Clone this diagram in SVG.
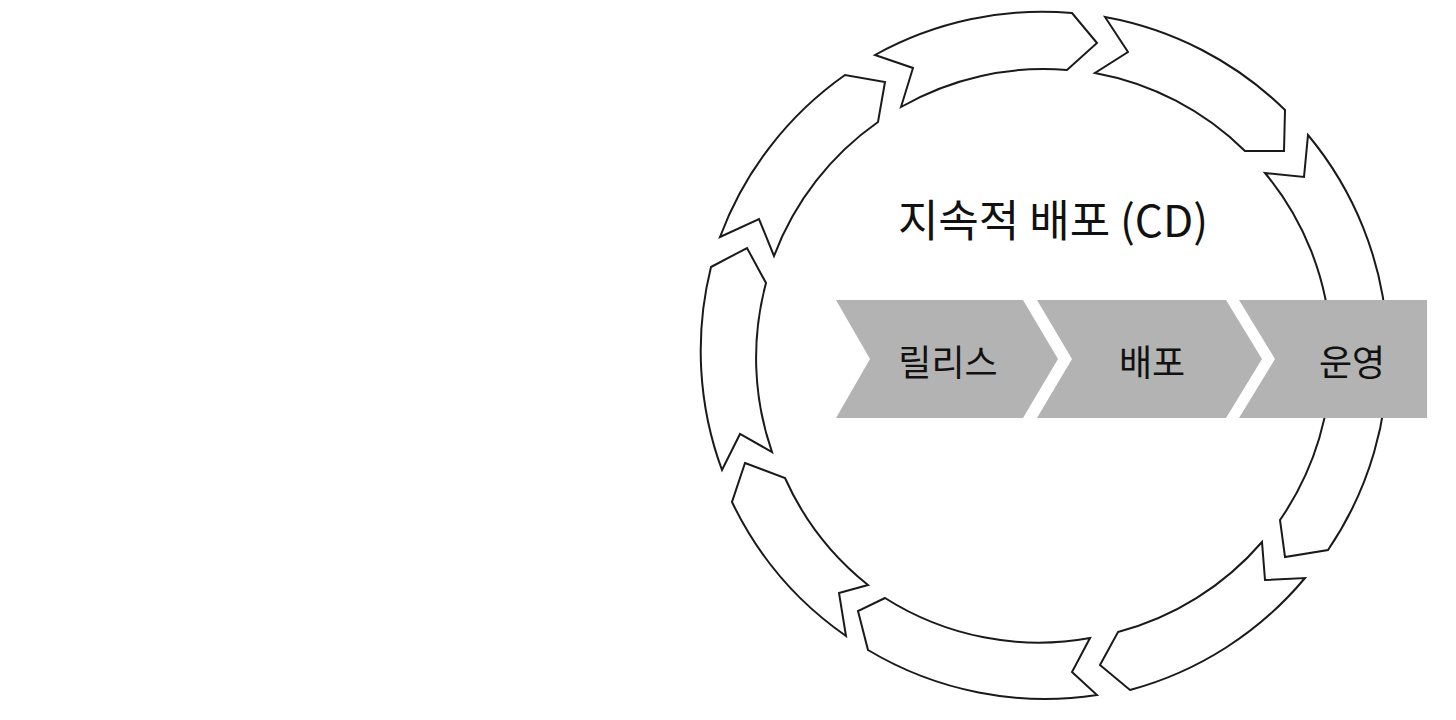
<svg xmlns="http://www.w3.org/2000/svg" width="1456" height="720" viewBox="0 0 1456 720">
<style>
.seg{fill:#fff;stroke:#1a1a1a;stroke-width:2;stroke-linejoin:miter}
.bar{fill:#b3b3b3}
.lbl{font-family:"Noto Sans CJK KR","Noto Sans",sans-serif;font-size:36px;fill:#111;text-anchor:middle;dominant-baseline:central}
.ttl{font-family:"Noto Sans CJK KR","Noto Sans",sans-serif;font-size:44px;fill:#111;text-anchor:middle;dominant-baseline:central}
</style>
<rect width="1456" height="720" fill="#fff"/>
<g id="connectors">
<path class="seg" d="M875,55 A345,345 0 0 1 1072,13 L1097,43 L1067,70 A287,287 0 0 0 901,107 L913,68 Z"/>
<path class="seg" d="M1105,17 A345,345 0 0 1 1285,110 L1284,151 L1245,151 A287,287 0 0 0 1095,73 L1128,52 Z"/>
<path class="seg" d="M1308,135 A345,345 0 0 1 1328,550 L1285,557 L1280,520 A287,287 0 0 0 1265,173 L1304,177 Z"/>
<path class="seg" d="M1305,578 A345,345 0 0 1 1130,690 L1100,665 L1118,632 A287,287 0 0 0 1262,542 L1265,580 Z"/>
<path class="seg" d="M1097,695 A345,345 0 0 1 868,650 L858,611 L885,598 A287,287 0 0 0 1090,638 L1072,672 Z"/>
<path class="seg" d="M745,463 L785,478 A287,287 0 0 0 868,585 L839,593 L846,636 A345,345 0 0 1 732,502 Z"/>
<path class="seg" d="M711,267 L747,248 L766,283 A287,287 0 0 0 772,452 L740,434 L722,470 A345,345 0 0 1 711,267 Z"/>
<path class="seg" d="M720,237 A345,345 0 0 1 845,75 L885,82 L878,122 A287,287 0 0 0 774,256 L759,219 Z"/>
</g>
<g id="title"><text class="ttl" x="1053" y="218">지속적 배포 (CD)</text></g>
<g id="release"><path class="bar" d="M836,300 L1023,300 L1058,359 L1023,418 L836,418 L870,359 Z"/><text class="lbl" x="948" y="360">릴리스</text></g>
<g id="deploy"><path class="bar" d="M1037,300 L1226,300 L1262,359 L1226,418 L1037,418 L1072,359 Z"/><text class="lbl" x="1152" y="360">배포</text></g>
<g id="operate"><path class="bar" d="M1239,300 L1427,300 L1427,418 L1239,418 L1275,359 Z"/><text class="lbl" x="1352" y="360">운영</text></g>
</svg>
